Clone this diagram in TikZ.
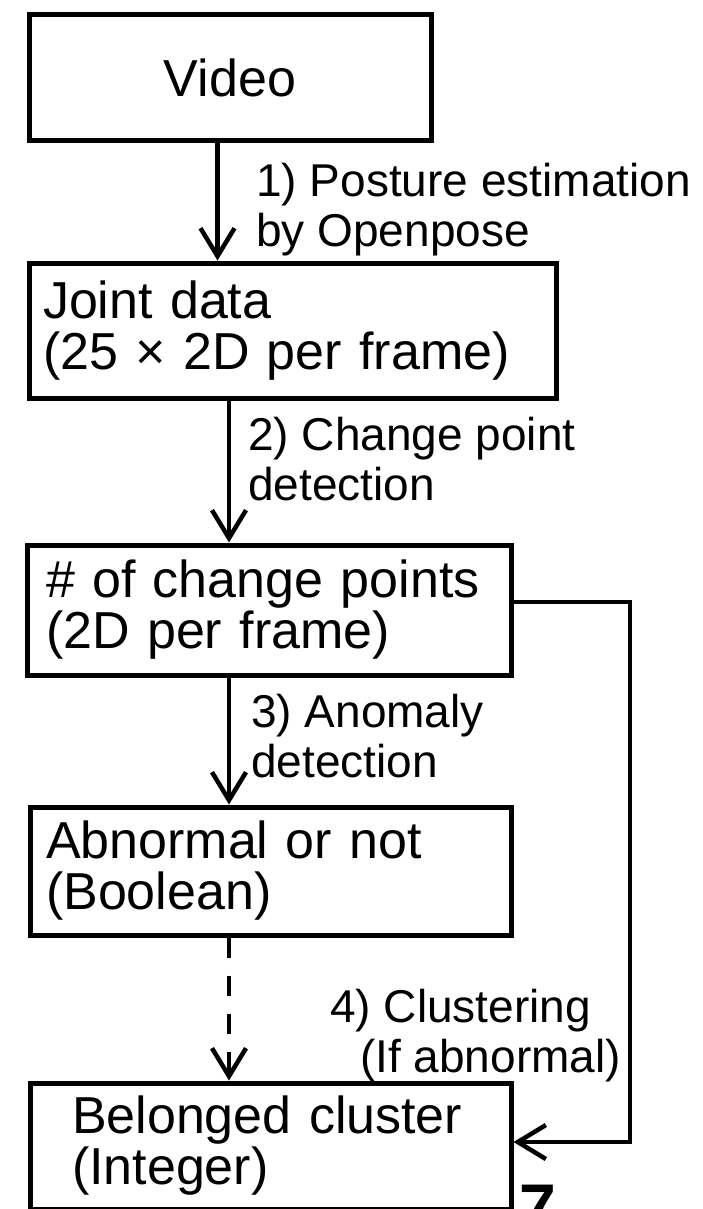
\documentclass[tikz,border=0pt]{standalone}
\usepackage{fontspec}
\setmainfont{Liberation Sans}
\usetikzlibrary{arrows.meta}
\begin{document}
\begin{tikzpicture}[x=1pt,y=-1pt,
  box/.style={draw,line width=5pt,rectangle,anchor=north west,inner ysep=0pt,
    font=\fontsize{52}{51}\selectfont,align=left},
  lbl/.style={anchor=north west,inner sep=0pt,align=left,
    font=\fontsize{46}{50}\selectfont},
  arr/.style={line width=4.5pt,-{Straight Barb[length=28pt,width=34pt]}},
  dsh/.style={arr,dash pattern=on 20pt off 18pt}]
\useasboundingbox (0,0) rectangle (702,1209);
% boxes
\node[box,minimum width=402pt,minimum height=126pt,align=center] (video) at (26.5,12.5) {Video};
\node[box,minimum width=527pt,minimum height=135pt,inner xsep=14pt,text width=499pt] (joint) at (26.5,260.5)
  {\mbox{Joint data}\\\mbox{(25 × 2D per frame)}};
\node[box,minimum width=484pt,minimum height=130pt,inner xsep=19pt,text width=446pt] (change) at (24.5,542.5)
  {\mbox{\# of change points}\\\mbox{(2D per frame)}};
\node[box,minimum width=481pt,minimum height=128pt,inner xsep=16pt,text width=449pt] (abn) at (27.5,804.5)
  {\mbox{Abnormal or not}\\\mbox{(Boolean)}};
\node[box,minimum width=481pt,minimum height=126pt,inner xsep=42pt,text width=397pt] (belong) at (27.5,1080.5)
  {\mbox{Belonged cluster}\\\mbox{(Integer)}};
% labels
\node[lbl] (l1) at (256,163) {1) Posture estimation\\by Openpose};
\node[lbl] (l2) at (248,417) {2) Change point\\detection};
\node[lbl] (l3) at (251,694) {3) Anomaly\\detection};
\node[lbl] (l4) at (330,989) {4) Clustering\\\hspace*{30pt}(If abnormal)};
\node[anchor=north west,inner sep=0pt,font=\fontsize{66}{66}\bfseries] (pg) at (519,1185) {7};
% connector x positions
\coordinate (a1) at (217.5,0);
\coordinate (a2) at (229,0);
\coordinate (fbA) at (630,602);
\coordinate (fbB) at (630,1142);
\draw[arr] (video.south -| a1) -- (joint.north -| a1);
\draw[arr] (joint.south -| a2) -- (change.north -| a2);
\draw[arr] (change.south -| a2) -- (abn.north -| a2);
\draw[dsh] (abn.south -| a2) -- (belong.north -| a2);
\draw[arr] (change.east |- fbA) -- (fbA) -- (fbB) -- (belong.east |- fbB);
\end{tikzpicture}
\end{document}
